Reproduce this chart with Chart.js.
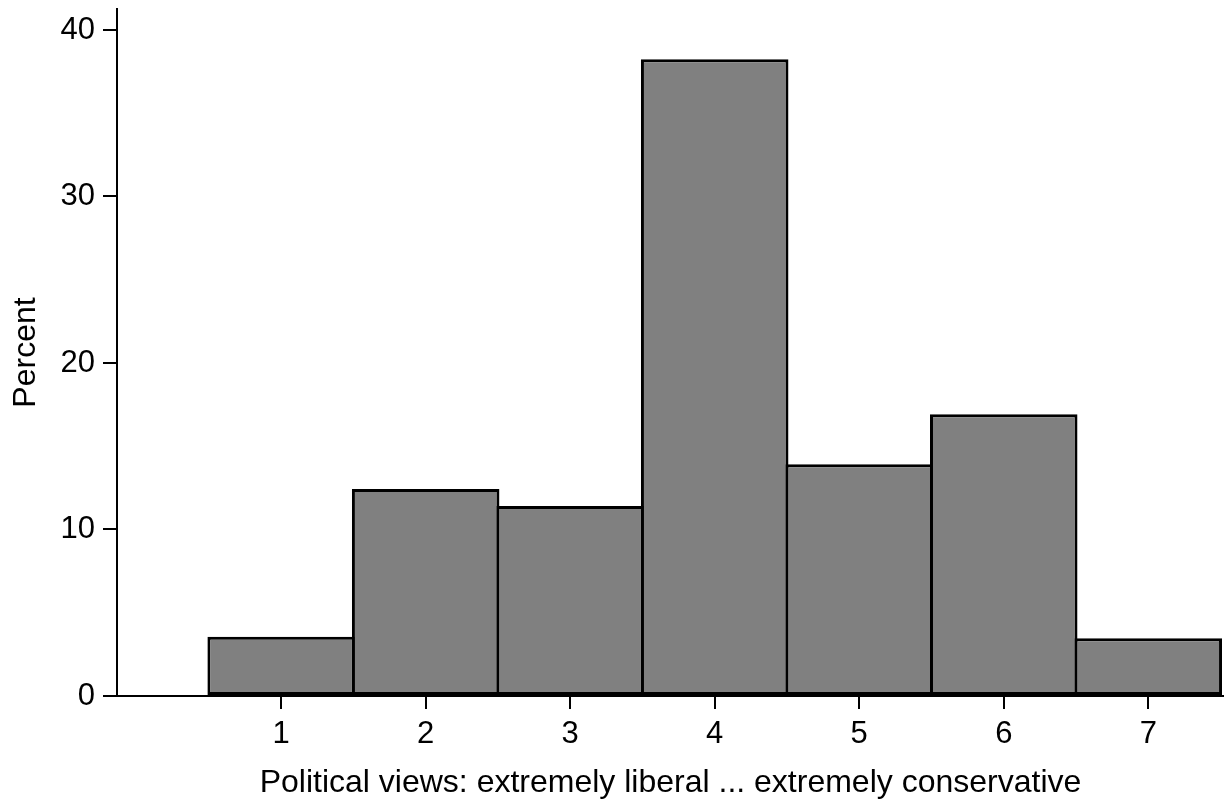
<!DOCTYPE html>
<html>
<head>
<meta charset="utf-8">
<script src="https://cdn.jsdelivr.net/npm/chart.js@4"></script>
<style>
  html, body { margin: 0; padding: 0; background: #fff; }
  #wrap { width: 1224px; height: 804px; }
</style>
</head>
<body>
<div id="wrap"><canvas id="histChart" width="1224" height="804"></canvas></div>
<script>
// histogram data (percent of respondents per category)
const categories = [1, 2, 3, 4, 5, 6, 7];
const percents = [3.56, 12.43, 11.41, 38.24, 13.92, 16.92, 3.47];
const xTicks = [1, 2, 3, 4, 5, 6, 7];
const yTicks = [0, 10, 20, 30, 40];

const xTitle = 'Political views: extremely liberal ... extremely conservative';
const yTitle = 'Percent';

const family = '"Liberation Sans", Arial, sans-serif';
const tickFont = { family: family, size: 31 };
const titleFont = { family: family, size: 32 };

Chart.defaults.color = '#000';

const ctx = document.getElementById('histChart').getContext('2d');
const histChart = new Chart(ctx, {
  type: 'bar',
  data: {
    datasets: [{
      data: categories.map((c, i) => ({ x: c, y: percents[i] })),
      backgroundColor: '#808080',
      borderColor: '#000',
      borderWidth: 3,
      borderSkipped: false,
      // slightly wider than 1 so neighbouring outlines overlap into one line
      barPercentage: 1.0208,
      categoryPercentage: 1
    }]
  },
  options: {
    responsive: false,
    animation: false,
    layout: { padding: { top: 9, right: 0, bottom: 0, left: 0 } },
    plugins: { legend: { display: false }, tooltip: { enabled: false } },
    scales: {
      x: {
        type: 'linear',
        min: -0.136,
        max: 7.524,
        offset: false,
        grid: { offset: false, drawOnChartArea: false, drawTicks: true, tickLength: 13, color: '#000', lineWidth: 2 },
        border: { display: true, color: '#000', width: 2 },
        ticks: { font: tickFont, padding: 7, maxRotation: 0, color: '#000' },
        title: { display: true, text: xTitle, font: titleFont, color: '#000', padding: { top: 0, bottom: 2 } },
        afterBuildTicks: axis => { axis.ticks = xTicks.map(v => ({ value: v })); },
        afterFit: axis => { axis.height = 108; axis.paddingLeft = 0; axis.paddingRight = 0; }
      },
      y: {
        type: 'linear',
        min: 0,
        max: 41.26,
        grid: { drawOnChartArea: false, drawTicks: true, tickLength: 14, color: '#000', lineWidth: 2 },
        border: { display: true, color: '#000', width: 2 },
        ticks: { font: tickFont, padding: 8, color: '#000' },
        title: { display: true, text: yTitle, font: titleFont, color: '#000', padding: { top: 7, bottom: 0 } },
        afterBuildTicks: axis => { axis.ticks = yTicks.map(v => ({ value: v })); },
        afterFit: axis => { axis.width = 117; axis.paddingTop = 0; axis.paddingBottom = 0; }
      }
    }
  }
});
</script>
</body>
</html>
